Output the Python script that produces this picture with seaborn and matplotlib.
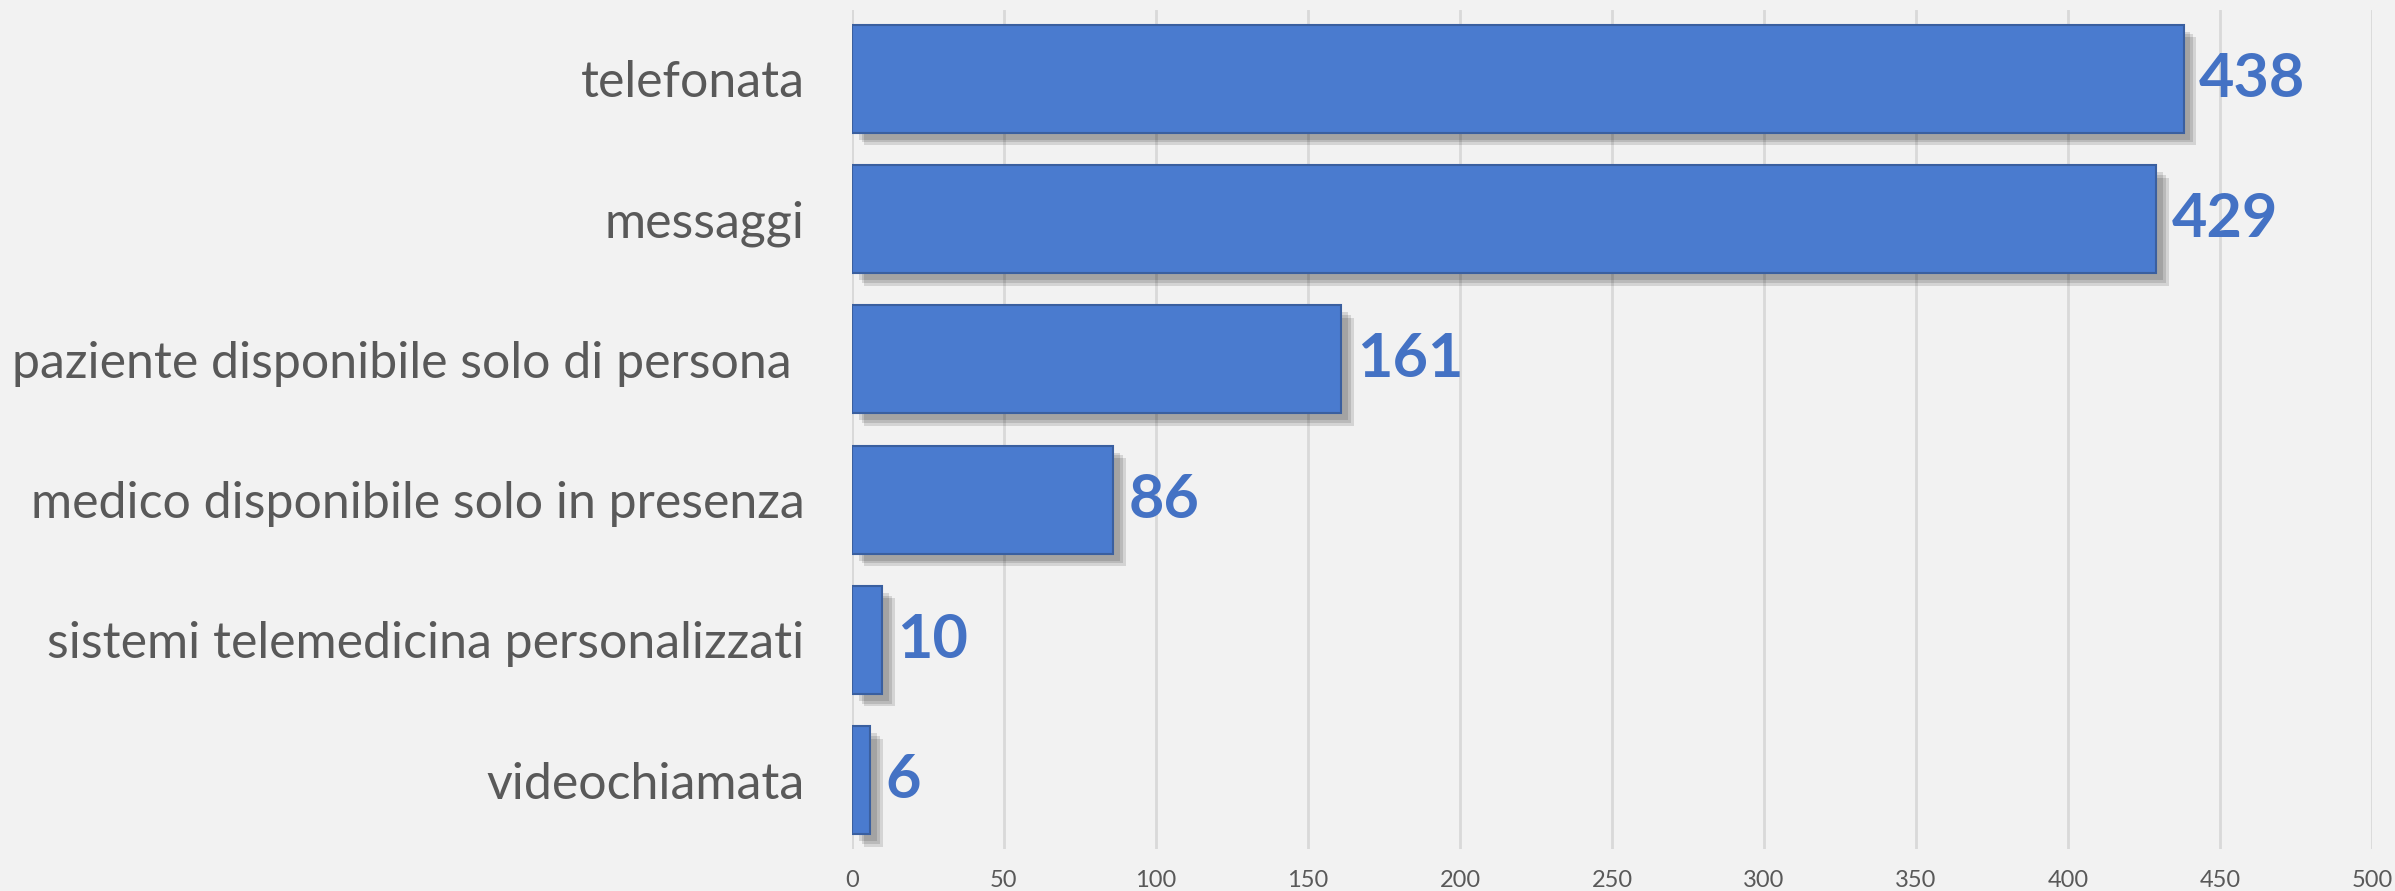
import matplotlib
matplotlib.use("Agg")
import matplotlib.pyplot as plt
import matplotlib.patheffects as pe
import seaborn as sns
import pandas as pd

categories = ["telefonata", "messaggi", "paziente disponibile solo di persona ",
              "medico disponibile solo in presenza", "sistemi telemedicina personalizzati",
              "videochiamata"]
values = [438, 429, 161, 86, 10, 6]
xticks = [0, 50, 100, 150, 200, 250, 300, 350, 400, 450, 500]

df = pd.DataFrame({"cat": categories, "val": values})

sns.set_theme(style="white")
plt.rcParams["font.family"] = ["Lato", "DejaVu Sans"]

fig = plt.figure(figsize=(23.95, 8.91), dpi=100, facecolor="#f2f2f2")
ax = fig.add_axes([0.3557, 0.0471, 0.6347, 0.9417])
ax.set_facecolor("#f2f2f2")

sns.barplot(data=df, x="val", y="cat", orient="h", color="#4a7bcf",
            width=0.77, ax=ax, saturation=1, edgecolor="#3a5f9f", linewidth=1.5)

shadow = [pe.SimplePatchShadow(offset=(o, -o), shadow_rgbFace="#000000", alpha=0.12)
          for o in (9, 7, 5)]
for p in ax.patches:
    p.set_path_effects(shadow + [pe.Normal()])
    p.set_zorder(3)

for i, v in enumerate(values):
    ax.text(v + 5, i, str(v), va="center", ha="left", fontsize=44, fontweight="bold",
            color="#4472c4", zorder=4)

ax.set_xlim(0, 500)
ax.set_ylim(5.49, -0.49)
ax.set_xticks(xticks)
ax.set_xticklabels([str(t) for t in xticks], fontsize=17, color="#595959")
ax.tick_params(axis="x", length=0, pad=15)
ax.tick_params(axis="y", length=0, pad=34, labelsize=36, labelcolor="#595959")
ax.xaxis.grid(True, color="#d9d9d9", linewidth=2)
ax.set_axisbelow(True)
for s in ax.spines.values():
    s.set_visible(False)
ax.axvline(0, color="#d9d9d9", linewidth=2, zorder=1)
ax.set_xlabel("")
ax.set_ylabel("")

fig.savefig("out.png", dpi=100, facecolor="#f2f2f2")
